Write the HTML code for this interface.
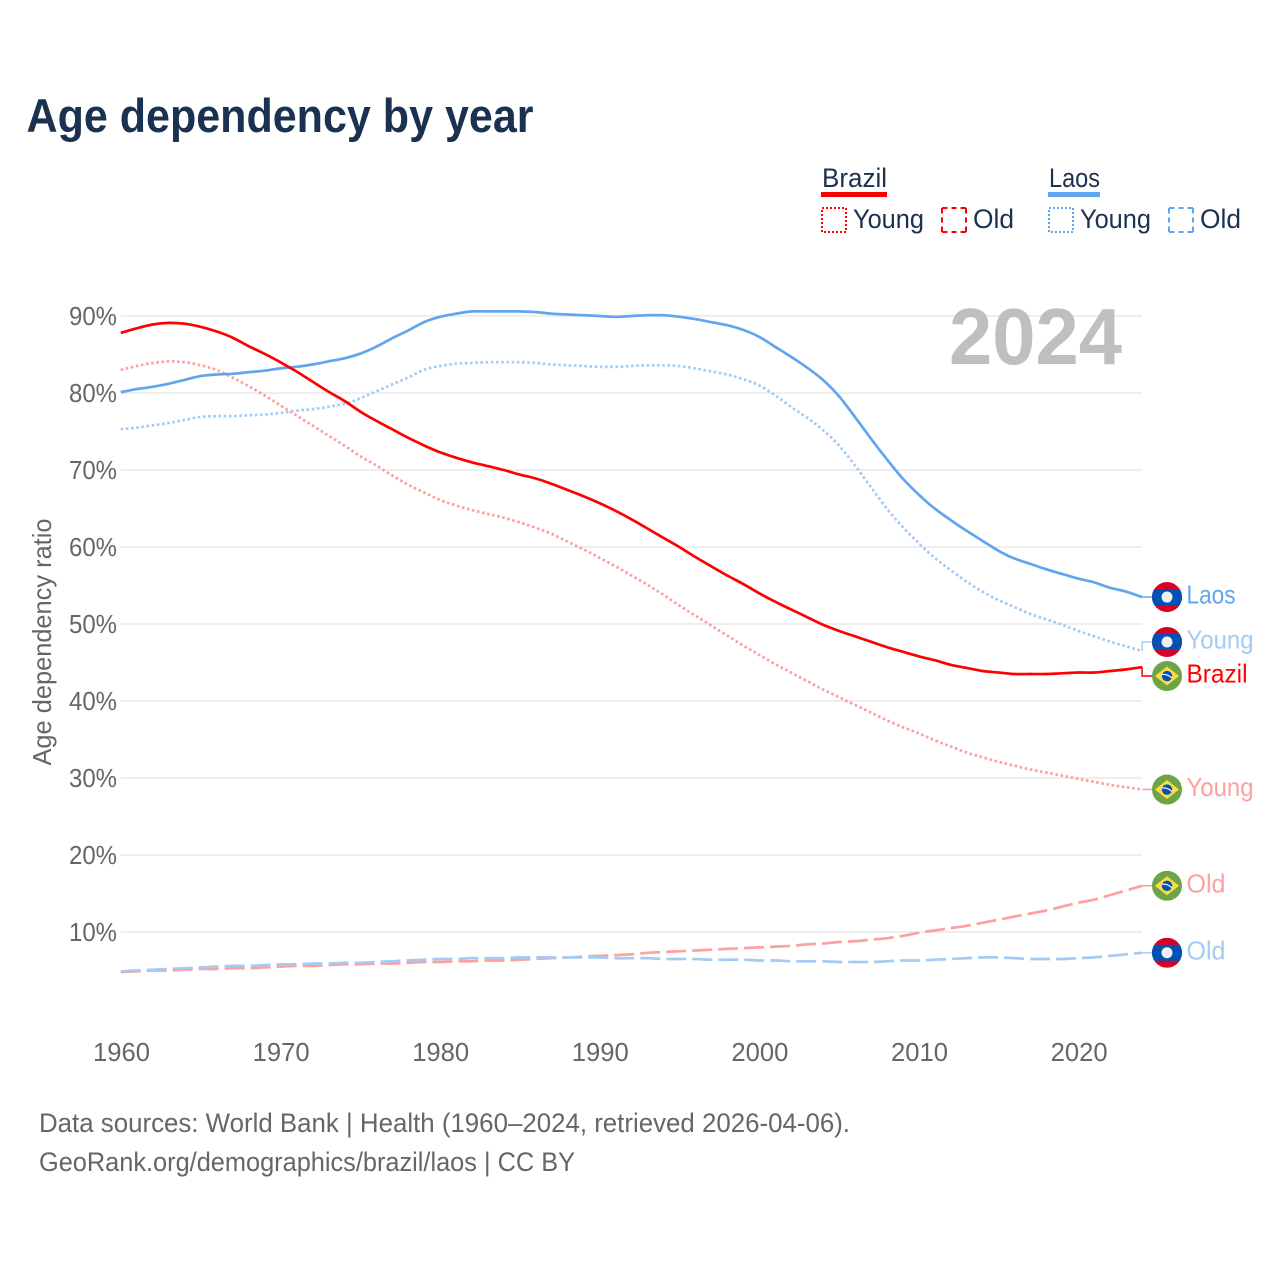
<!DOCTYPE html>
<html lang="en">
<head>
<meta charset="utf-8">
<title>Age dependency by year</title>
<style>
html,body{margin:0;padding:0;background:#fff;}
svg{display:block;font-family:"Liberation Sans",sans-serif;}
</style>
</head>
<body>
<svg id="chart" xmlns="http://www.w3.org/2000/svg" width="1280" height="1280" viewBox="0 0 1280 1280">
  <rect width="1280" height="1280" fill="#fff"/>
  <text x="26.5" y="132" font-size="47" font-weight="bold" fill="#1a3150" textLength="507" lengthAdjust="spacingAndGlyphs">Age dependency by year</text>

  <g font-size="27" fill="#1a3150">
    <g>
      <text x="822" y="187" textLength="65" lengthAdjust="spacingAndGlyphs">Brazil</text>
      <rect x="821" y="192" width="66" height="5" fill="#ff0000"/>
      <rect x="822" y="208" width="24" height="24" fill="none" stroke="#ff0000" stroke-width="2" stroke-dasharray="2 2"/>
      <text x="853" y="228" textLength="71" lengthAdjust="spacingAndGlyphs">Young</text>
      <path d="M942 208H966V232H942Z" fill="none" stroke="#ff0000" stroke-width="2" stroke-dasharray="5.5 4 5 4 5.5 0"/>
      <text x="973" y="228" textLength="41" lengthAdjust="spacingAndGlyphs">Old</text>
    </g>
    <g>
      <text x="1049" y="187" textLength="51" lengthAdjust="spacingAndGlyphs">Laos</text>
      <rect x="1048" y="192" width="52" height="5" fill="#60a5ee"/>
      <rect x="1049" y="208" width="24" height="24" fill="none" stroke="#60a5ee" stroke-width="2" stroke-dasharray="2 2"/>
      <text x="1080" y="228" textLength="71" lengthAdjust="spacingAndGlyphs">Young</text>
      <path d="M1169 208H1193V232H1169Z" fill="none" stroke="#60a5ee" stroke-width="2" stroke-dasharray="5.5 4 5 4 5.5 0"/>
      <text x="1200" y="228" textLength="41" lengthAdjust="spacingAndGlyphs">Old</text>
    </g>
  </g>

  <g id="grid"></g>
  <g id="yticks" font-size="26" fill="#666" text-anchor="end"></g>
  <g id="xticks" font-size="26" fill="#666" text-anchor="middle"></g>
  <text transform="translate(51 642) rotate(-90)" font-size="26" fill="#666" text-anchor="middle" textLength="247" lengthAdjust="spacingAndGlyphs">Age dependency ratio</text>
  <text x="949" y="364" font-size="80" font-weight="bold" fill="#bfbfbf" textLength="173" lengthAdjust="spacingAndGlyphs">2024</text>

  <g id="series"></g>
  <g id="ends"></g>

  <text x="39" y="1132" font-size="27" fill="#666" textLength="811" lengthAdjust="spacingAndGlyphs">Data sources: World Bank | Health (1960–2024, retrieved 2026-04-06).</text>
  <text x="39" y="1171" font-size="27" fill="#666" textLength="536" lengthAdjust="spacingAndGlyphs">GeoRank.org/demographics/brazil/laos | CC BY</text>
</svg>
<script>
const years = [
  1960,1961,1962,1963,1964,1965,1966,1967,1968,1969,
  1970,1971,1972,1973,1974,1975,1976,1977,1978,1979,
  1980,1981,1982,1983,1984,1985,1986,1987,1988,1989,
  1990,1991,1992,1993,1994,1995,1996,1997,1998,1999,
  2000,2001,2002,2003,2004,2005,2006,2007,2008,2009,
  2010,2011,2012,2013,2014,2015,2016,2017,2018,2019,
  2020,2021,2022,2023,2024
];
const brazilTotal = [
  87.8,88.4,88.9,89.1,89.0,88.6,88.0,87.2,86.1,85.1,
  84.0,82.8,81.5,80.2,79.0,77.6,76.4,75.3,74.2,73.2,
  72.3,71.6,71.0,70.5,70.0,69.4,68.9,68.2,67.4,66.6,
  65.7,64.7,63.6,62.4,61.2,60.0,58.7,57.5,56.3,55.2,
  54.0,52.9,51.9,50.9,49.9,49.1,48.4,47.7,47.0,46.4,
  45.8,45.3,44.7,44.3,43.9,43.7,43.5,43.5,43.5,43.6,
  43.7,43.7,43.9,44.1,44.4
];
const brazilYoung = [
  83.0,83.5,83.9,84.1,84.0,83.6,83.0,82.0,80.9,79.7,
  78.4,77.1,75.8,74.5,73.2,71.8,70.6,69.3,68.1,67.1,
  66.1,65.4,64.8,64.3,63.8,63.2,62.5,61.7,60.7,59.7,
  58.6,57.5,56.3,55.1,53.8,52.4,51.1,49.8,48.5,47.2,
  46.0,44.8,43.7,42.6,41.5,40.5,39.5,38.5,37.5,36.6,
  35.8,34.9,34.1,33.3,32.7,32.1,31.6,31.1,30.7,30.3,
  29.9,29.5,29.1,28.8,28.5
];
const brazilOld = [
  4.8,4.9,5.0,5.0,5.1,5.2,5.2,5.3,5.3,5.4,
  5.5,5.6,5.6,5.7,5.8,5.8,5.9,5.9,6.0,6.1,
  6.1,6.2,6.2,6.3,6.3,6.4,6.5,6.6,6.7,6.8,
  6.9,7.0,7.1,7.3,7.4,7.5,7.6,7.7,7.8,7.9,
  8.0,8.1,8.2,8.4,8.5,8.7,8.8,9.0,9.2,9.5,
  9.9,10.2,10.5,10.8,11.2,11.6,12.0,12.4,12.8,13.3,
  13.8,14.2,14.8,15.4,16.0
];
const laosTotal = [
  80.1,80.5,80.8,81.2,81.7,82.2,82.4,82.5,82.7,82.9,
  83.2,83.4,83.7,84.1,84.5,85.1,86.0,87.1,88.1,89.2,
  89.9,90.3,90.6,90.6,90.6,90.6,90.5,90.3,90.2,90.1,
  90.0,89.9,90.0,90.1,90.1,89.9,89.6,89.2,88.8,88.2,
  87.3,86.0,84.7,83.3,81.7,79.6,76.9,74.1,71.4,68.9,
  66.8,65.0,63.5,62.1,60.8,59.5,58.5,57.8,57.1,56.5,
  55.9,55.4,54.7,54.2,53.5
];
const laosYoung = [
  75.3,75.5,75.8,76.1,76.5,76.9,77.0,77.0,77.1,77.2,
  77.4,77.7,77.9,78.2,78.6,79.3,80.2,81.1,82.0,83.0,
  83.5,83.8,83.9,84.0,84.0,84.0,83.9,83.7,83.6,83.5,
  83.4,83.4,83.5,83.6,83.6,83.5,83.2,82.8,82.4,81.8,
  81.0,79.7,78.2,76.8,75.2,73.2,70.6,67.8,65.0,62.6,
  60.5,58.6,57.0,55.5,54.2,53.1,52.2,51.3,50.6,49.9,
  49.1,48.4,47.7,47.1,46.5
];
const laosOld = [
  4.9,5.0,5.1,5.2,5.3,5.4,5.5,5.6,5.6,5.7,
  5.8,5.8,5.9,5.9,6.0,6.0,6.1,6.2,6.3,6.4,
  6.5,6.5,6.6,6.6,6.6,6.7,6.7,6.7,6.7,6.7,
  6.7,6.6,6.6,6.6,6.5,6.5,6.5,6.4,6.4,6.4,
  6.3,6.3,6.2,6.2,6.2,6.1,6.1,6.1,6.2,6.3,
  6.3,6.4,6.5,6.6,6.7,6.7,6.6,6.5,6.5,6.5,
  6.6,6.7,6.9,7.1,7.3
];
const yTickValues = [10,20,30,40,50,60,70,80,90];
const xTickValues = [1960,1970,1980,1990,2000,2010,2020];

const NS = 'http://www.w3.org/2000/svg';
function xScale(year){ return 120.7 + (year - 1960) * 15.96; }
function yScale(v){ return 1009 - 7.7 * v; }
function mk(tag, attrs, parent){
  const el = document.createElementNS(NS, tag);
  for (const k in attrs) el.setAttribute(k, attrs[k]);
  parent.appendChild(el);
  return el;
}
/* Smooth path through the data points (Catmull-Rom to Bezier). */
function smoothPath(values){
  const pts = values.map(function(v, i){ return [xScale(years[i]), yScale(v)]; });
  let d = 'M' + pts[0][0].toFixed(1) + ' ' + pts[0][1].toFixed(1);
  for (let i = 0; i < pts.length - 1; i++) {
    const p0 = pts[Math.max(i - 1, 0)], p1 = pts[i], p2 = pts[i + 1], p3 = pts[Math.min(i + 2, pts.length - 1)];
    const c1x = p1[0] + (p2[0] - p0[0]) / 6, c1y = p1[1] + (p2[1] - p0[1]) / 6;
    const c2x = p2[0] - (p3[0] - p1[0]) / 6, c2y = p2[1] - (p3[1] - p1[1]) / 6;
    d += 'C' + c1x.toFixed(1) + ' ' + c1y.toFixed(1) + ' ' + c2x.toFixed(1) + ' ' + c2y.toFixed(1) + ' ' + p2[0].toFixed(1) + ' ' + p2[1].toFixed(1);
  }
  return d;
}

const gridG = document.getElementById('grid');
const yG = document.getElementById('yticks');
yTickValues.forEach(function(v){
  const line = mk('line', {x1:120.7, x2:1142, y1:yScale(v), y2:yScale(v), stroke:'#e8e8e8', 'stroke-width':1.4}, gridG);
  
  
  const t = mk('text', {x:117, y:yScale(v) + 9, textLength:48, lengthAdjust:'spacingAndGlyphs'}, yG);
  
  
  t.textContent = v + '%';
});
const xG = document.getElementById('xticks');
xTickValues.forEach(function(year){
  const t = mk('text', {x:xScale(year) + 0.8, y:1061, textLength:57, lengthAdjust:'spacingAndGlyphs'}, xG);
  
  
  t.textContent = year;
});

const RED = '#ff0000', BLUE = '#60a5ee', PALE_RED = '#ff9f9f', PALE_BLUE = '#a3cbf3';
const DOT = '2.6 2.6', DASH = '20 6';
const seriesList = [
  {id:'brazil-young', country:'brazil', label:'Young', values:brazilYoung, color:PALE_RED, dash:DOT, w:2.7},
  {id:'brazil-old', country:'brazil', label:'Old', values:brazilOld, color:PALE_RED, dash:DASH, w:2.7},
  {id:'laos-young', country:'laos', label:'Young', values:laosYoung, color:PALE_BLUE, dash:DOT, w:2.7},
  {id:'laos-old', country:'laos', label:'Old', values:laosOld, color:PALE_BLUE, dash:DASH, w:2.7},
  {id:'laos-total', country:'laos', label:'Laos', values:laosTotal, color:BLUE, dash:'none', w:2.7},
  {id:'brazil-total', country:'brazil', label:'Brazil', values:brazilTotal, color:RED, dash:'none', w:2.7}
];
const labelWidth = {Laos:49, Young:67, Brazil:61, Old:39};

const seriesG = document.getElementById('series');
seriesList.forEach(function(s){
  const p = mk('path', {d:smoothPath(s.values), fill:'none', stroke:s.color, 'stroke-width':s.w, 'stroke-dasharray':s.dash, 'stroke-linejoin':'round'}, seriesG);
  
  
});

/* End labels: start at the last value, then push overlapping neighbours apart. */
const MIN_GAP = 34;
const placed = seriesList.map(function(s){
  const lastY = yScale(s.values[s.values.length - 1]);
  return {s:s, lastY:lastY, y:lastY};
}).sort(function(a, b){ return a.y - b.y; });
for (let pass = 0; pass < 20; pass++) {
  for (let i = 1; i < placed.length; i++) {
    const gap = placed[i].y - placed[i - 1].y;
    if (gap < MIN_GAP) {
      const push = (MIN_GAP - gap) / 2;
      placed[i - 1].y -= push;
      placed[i].y += push;
    }
  }
}

let clipCount = 0;
function drawFlag(parent, country, cx, cy){
  const R = 15;
  const id = 'flag-clip-' + (clipCount++);
  const clip = mk('clipPath', {id:id}, parent);
  mk('circle', {cx:cx, cy:cy, r:R}, clip);
  const g = mk('g', {'clip-path':'url(#' + id + ')'}, parent);
  
  
  if (country === 'laos') {
    mk('rect', {x:cx - R, y:cy - R, width:2 * R, height:2 * R, fill:'#d80027'}, g);
    mk('rect', {x:cx - R, y:cy - 8, width:2 * R, height:16, fill:'#0052b4'}, g);
    mk('circle', {cx:cx, cy:cy, r:5.5, fill:'#f0f0f0'}, g);
  } else {
    mk('rect', {x:cx - R, y:cy - R, width:2 * R, height:2 * R, fill:'#6da544'}, g);
    mk('polygon', {points:(cx - 12) + ',' + cy + ' ' + cx + ',' + (cy - 9.5) + ' ' + (cx + 12) + ',' + cy + ' ' + cx + ',' + (cy + 9.5), fill:'#ffda44'}, g);
    mk('circle', {cx:cx, cy:cy, r:5.2, fill:'#0052b4'}, g);
    mk('path', {d:'M' + (cx - 5) + ' ' + (cy - 1.5) + 'Q' + cx + ' ' + (cy - 2.5) + ' ' + (cx + 5) + ' ' + (cy + 2), fill:'none', stroke:'#f0f0f0', 'stroke-width':1.3}, g);
  }
}

const endsG = document.getElementById('ends');
const endX = xScale(2024);
placed.forEach(function(item){
  const s = item.s;
  const connector = mk('path', {d:'M' + endX.toFixed(1) + ' ' + item.lastY.toFixed(1) + 'V' + item.y.toFixed(1) + 'H1152', fill:'none', stroke:s.color, 'stroke-width':1.5}, endsG);
  
  
  drawFlag(endsG, s.country, 1167, item.y);
  const t = mk('text', {x:1186.5, y:item.y + 6.5, 'font-size':26, fill:s.color, textLength:labelWidth[s.label], lengthAdjust:'spacingAndGlyphs'}, endsG);
  
  
  t.textContent = s.label;
});
</script>
</body>
</html>
